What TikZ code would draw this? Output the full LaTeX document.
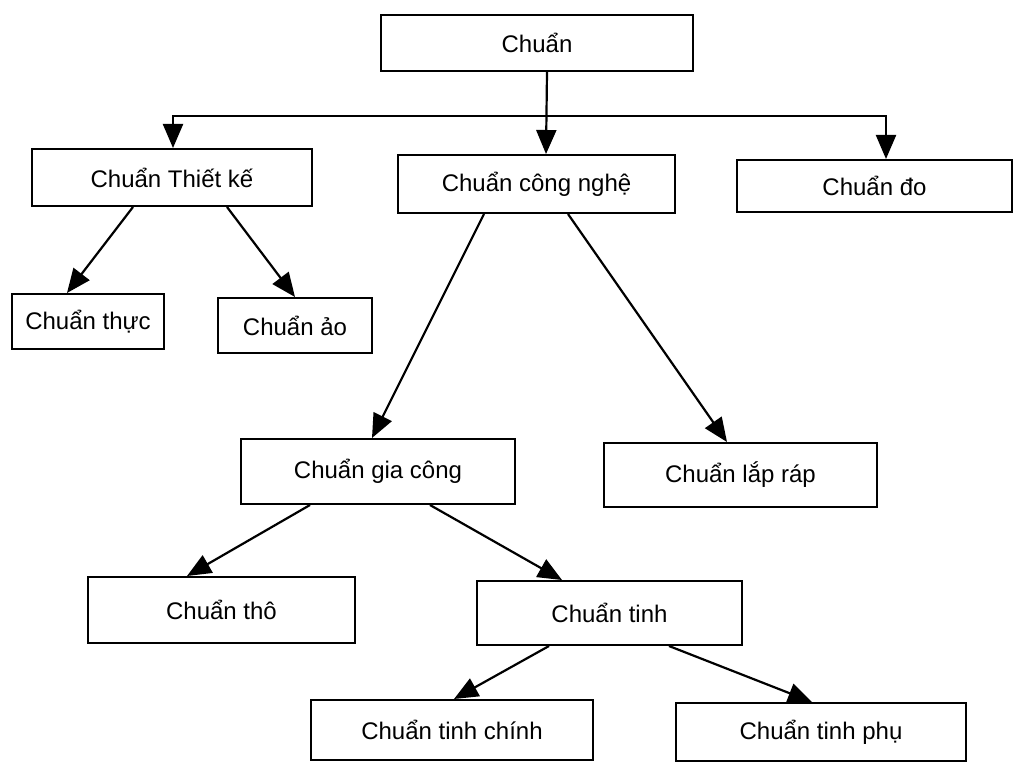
\documentclass[tikz,border=0pt]{standalone}
\usepackage{fontspec}
\setmainfont{Liberation Sans}
\usetikzlibrary{arrows.meta}
\tikzset{
  box/.style={draw, line width=2pt, inner sep=0pt, font=\fontsize{24}{28}\selectfont},
  arr/.style={line width=2.2pt, -{Triangle[length=24pt,width=20pt]}}
}
\begin{document}
\begin{tikzpicture}[x=1pt,y=-1pt]
\useasboundingbox (0,0) rectangle (1015,762);
\node[box, minimum width=312pt, minimum height=56pt] (root) at (537,43) {Chuẩn};
\node[box, minimum width=280pt, minimum height=57pt] (tk) at (172,177.5) {Chuẩn Thiết kế};
\node[box, minimum width=277pt, minimum height=58pt] (cn) at (536.5,184) {Chuẩn công nghệ};
\node[box, minimum width=275pt, minimum height=52pt] (do) at (874.5,186) {Chuẩn đo};
\node[box, minimum width=152pt, minimum height=55pt] (thuc) at (88,321.5) {Chuẩn thực};
\node[box, minimum width=154pt, minimum height=55pt] (ao) at (295,325.5) {Chuẩn ảo};
\node[box, minimum width=274pt, minimum height=65pt] (gc) at (378,471.5) {Chuẩn gia công};
\node[box, minimum width=273pt, minimum height=64pt] (lr) at (740.5,475) {Chuẩn lắp ráp};
\node[box, minimum width=267pt, minimum height=66pt] (tho) at (221.5,610) {Chuẩn thô};
\node[box, minimum width=265pt, minimum height=64pt] (tinh) at (609.5,613) {Chuẩn tinh};
\node[box, minimum width=282pt, minimum height=60pt] (chinh) at (452,730) {Chuẩn tinh chính};
\node[box, minimum width=290pt, minimum height=58pt] (phu) at (821,732) {Chuẩn tinh phụ};
\coordinate (bus) at (547,116);
\draw[arr] ([xshift=10pt]root.south) -- ([xshift=9.5pt]cn.north);
\draw[arr] (bus) -| ([xshift=1pt]tk.north);
\draw[arr] (bus) -| ([xshift=11.5pt]do.north);
\draw[arr] ([xshift=-39pt]tk.south) -- ([xshift=-21pt]thuc.north);
\draw[arr] ([xshift=55pt]tk.south) -- (ao.north);
\draw[arr] ([xshift=-52.5pt]cn.south) -- ([xshift=-6pt]gc.north);
\draw[arr] ([xshift=31.5pt]cn.south) -- ([xshift=-13.5pt]lr.north);
\draw[arr] ([xshift=-68pt]gc.south) -- ([xshift=-34.5pt]tho.north);
\draw[arr] ([xshift=52pt]gc.south) -- ([xshift=-47.5pt]tinh.north);
\draw[arr] ([xshift=-60.5pt]tinh.south) -- ([xshift=2pt]chinh.north);
\draw[arr] ([xshift=59.5pt]tinh.south) -- ([xshift=-9pt]phu.north);
\end{tikzpicture}
\end{document}
